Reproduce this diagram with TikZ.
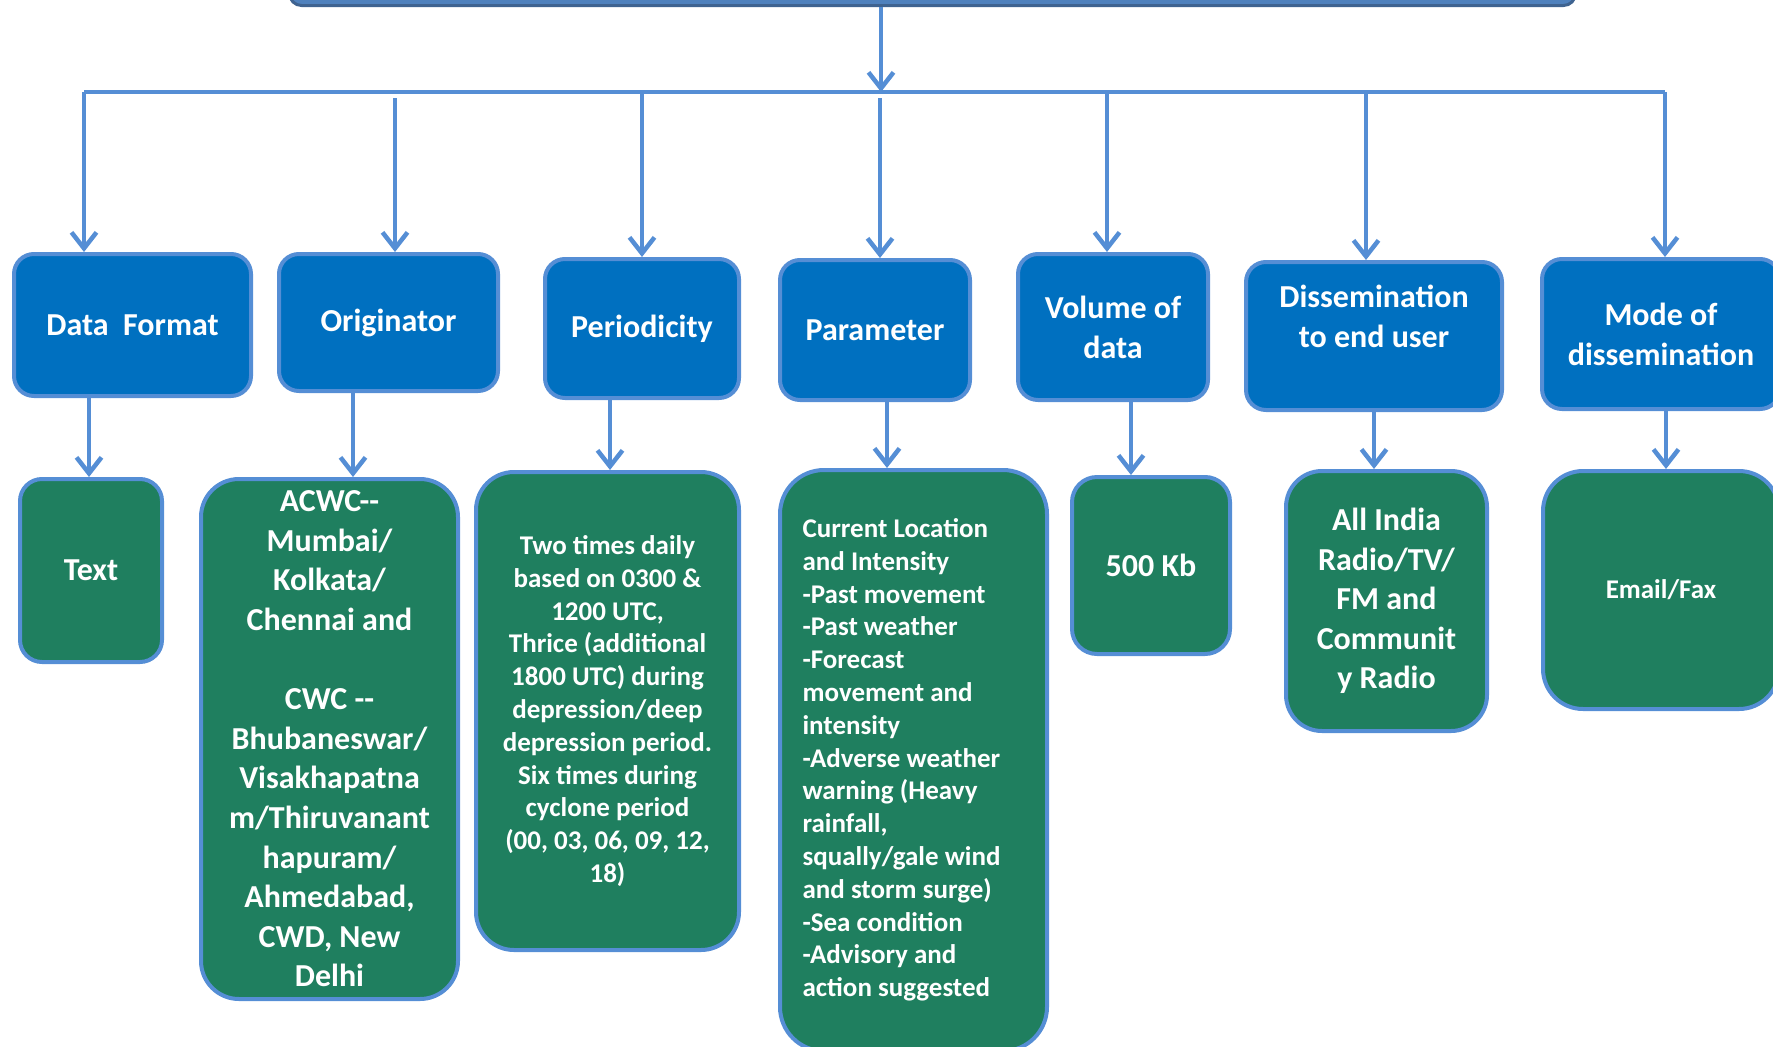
\documentclass[tikz,border=0pt]{standalone}
\usepackage{fontspec}
\setmainfont{Carlito}
\usetikzlibrary{arrows.meta}
\definecolor{lblue}{HTML}{558ED5}
\definecolor{hblue}{HTML}{0070C0}
\definecolor{tgreen}{HTML}{1F7F5F}
\definecolor{tblue}{HTML}{4F81BD}
\definecolor{tbluedk}{HTML}{3F6390}
\begin{document}
\begin{tikzpicture}[x=1pt,y=-1pt,
  arr/.style={draw=lblue,line width=4.5pt,-{Straight Barb[length=16pt,width=25pt]}},
  busline/.style={draw=lblue,line width=4.5pt},
  hbox/.style={draw=lblue,line width=4pt,fill=hblue,text=white,
    font=\bfseries\fontsize{32}{40}\selectfont,align=center,
    rounded corners=20pt,anchor=north west,inner sep=0pt,xshift=1pt,yshift=-1pt},
  gbox/.style={draw=lblue,line width=4pt,fill=tgreen,text=white,
    font=\bfseries\fontsize{32}{39.6}\selectfont,align=center,
    rounded corners=38pt,anchor=north west,inner sep=0pt,xshift=1pt,yshift=-1pt},
  smalltxt/.style={font=\bfseries\fontsize{27}{32.8}\selectfont},
  topbox/.style={draw=tbluedk,line width=3pt,fill=tblue,rounded corners=12pt,
    anchor=south west,inner sep=0pt}]
\useasboundingbox (0,0) rectangle (1773,1047);
\clip (0,0) rectangle (1773,1047);

% top box (cut off)
\node[topbox,minimum width=1286pt,minimum height=80pt] (top) at (288,7) {};

% level 1
\node[hbox,minimum width=237pt,minimum height=142pt] (DF) at (11,251) {Data\ \ Format};
\node[hbox,minimum width=219pt,minimum height=137pt] (OR) at (276,251) {Originator};
\node[hbox,minimum width=194pt,minimum height=139pt] (PE) at (542,256) {Periodicity};
\node[hbox,minimum width=190pt,minimum height=140pt] (PA) at (777,257) {Parameter};
\node[hbox,minimum width=190pt,minimum height=146pt] (VO) at (1015,251) {Volume of\\data};
\node[hbox,minimum width=256pt,minimum height=148pt] (DI) at (1243,259) {Dissemination\\to end user\\\mbox{}};
\node[hbox,minimum width=238pt,minimum height=150pt] (MO) at (1539,256) {Mode of\\dissemination};

% level 2
\node[gbox,rounded corners=22pt,minimum width=142pt,minimum height=183pt] (DF2) at (17,476) {Text};
\node[gbox,minimum width=257pt,minimum height=520pt] (OR2) at (198,476)
  {ACWC-{}-\\Mumbai/\\Kolkata/\\Chennai and\\\mbox{}\\CWC -{}-\\Bhubaneswar/\\Visakhapatna\\m/Thiruvanant\\hapuram/\\Ahmedabad,\\CWD, New\\Delhi};
\node[gbox,smalltxt,minimum width=263pt,minimum height=478pt] (PE2) at (473,469)
  {Two times daily\\based on 0300 \&\\1200 UTC,\\Thrice (additional\\1800 UTC) during\\depression/deep\\depression period.\\Six times during\\cyclone period\\(00, 03, 06, 09, 12,\\18)};
\node[gbox,smalltxt,rounded corners=44pt,minimum width=267pt,minimum height=581pt] (PA2) at (777,467)
  {\renewcommand{\arraystretch}{1}\begin{tabular}{@{}l@{\hspace{24pt}}}Current Location\\and Intensity\\-Past movement\\-Past weather\\-Forecast\\movement and\\intensity\\-Adverse weather\\warning (Heavy\\rainfall,\\squally/gale wind\\and storm surge)\\-Sea condition\\-Advisory and\\action suggested\end{tabular}};
\node[gbox,rounded corners=25pt,minimum width=158pt,minimum height=177pt] (VO2) at (1069,474) {500 Kb};
\node[gbox,rounded corners=36pt,minimum width=201pt,minimum height=260pt] (DI2) at (1283,468)
  {All India\\Radio/TV/\\FM and\\Communit\\y Radio};
\node[gbox,smalltxt,rounded corners=40pt,minimum width=236pt,minimum height=238pt] (MO2) at (1540,468) {Email/Fax};

% bus
\coordinate (bl) at (84,92);
\coordinate (br) at (1665,92);
\coordinate (m) at (881,92);
\draw[busline] (bl) -- (br);
\draw[arr] (m |- top.south) -- (m);

% drops from bus
\coordinate (d1) at (84,92);
\coordinate (d2) at (395,98);
\coordinate (d3) at (642,92);
\coordinate (d4) at (880,98);
\coordinate (d5) at (1107,92);
\coordinate (d6) at (1366,92);
\coordinate (d7) at (1665,92);
\draw[arr] (d1) -- (d1 |- DF.north);
\draw[arr] (d2) -- (d2 |- OR.north);
\draw[arr] (d3) -- (d3 |- PE.north);
\draw[arr] (d4) -- (d4 |- PA.north);
\draw[arr] (d5) -- (d5 |- VO.north);
\draw[arr] (d6) -- (d6 |- DI.north);
\draw[arr] (d7) -- (d7 |- MO.north);

% level 1 -> level 2
\coordinate (e1) at (89,0);
\coordinate (e2) at (353,0);
\coordinate (e3) at (610,0);
\coordinate (e4) at (887,0);
\coordinate (e5) at (1131,0);
\coordinate (e6) at (1374,0);
\coordinate (e7) at (1666,0);
\draw[arr] (e1 |- DF.south) -- (e1 |- DF2.north);
\draw[arr] (e2 |- OR.south) -- (e2 |- OR2.north);
\draw[arr] (e3 |- PE.south) -- (e3 |- PE2.north);
\draw[arr] (e4 |- PA.south) -- (e4 |- PA2.north);
\draw[arr] (e5 |- VO.south) -- (e5 |- VO2.north);
\draw[arr] (e6 |- DI.south) -- (e6 |- DI2.north);
\draw[arr] (e7 |- MO.south) -- (e7 |- MO2.north);
\end{tikzpicture}
\end{document}
